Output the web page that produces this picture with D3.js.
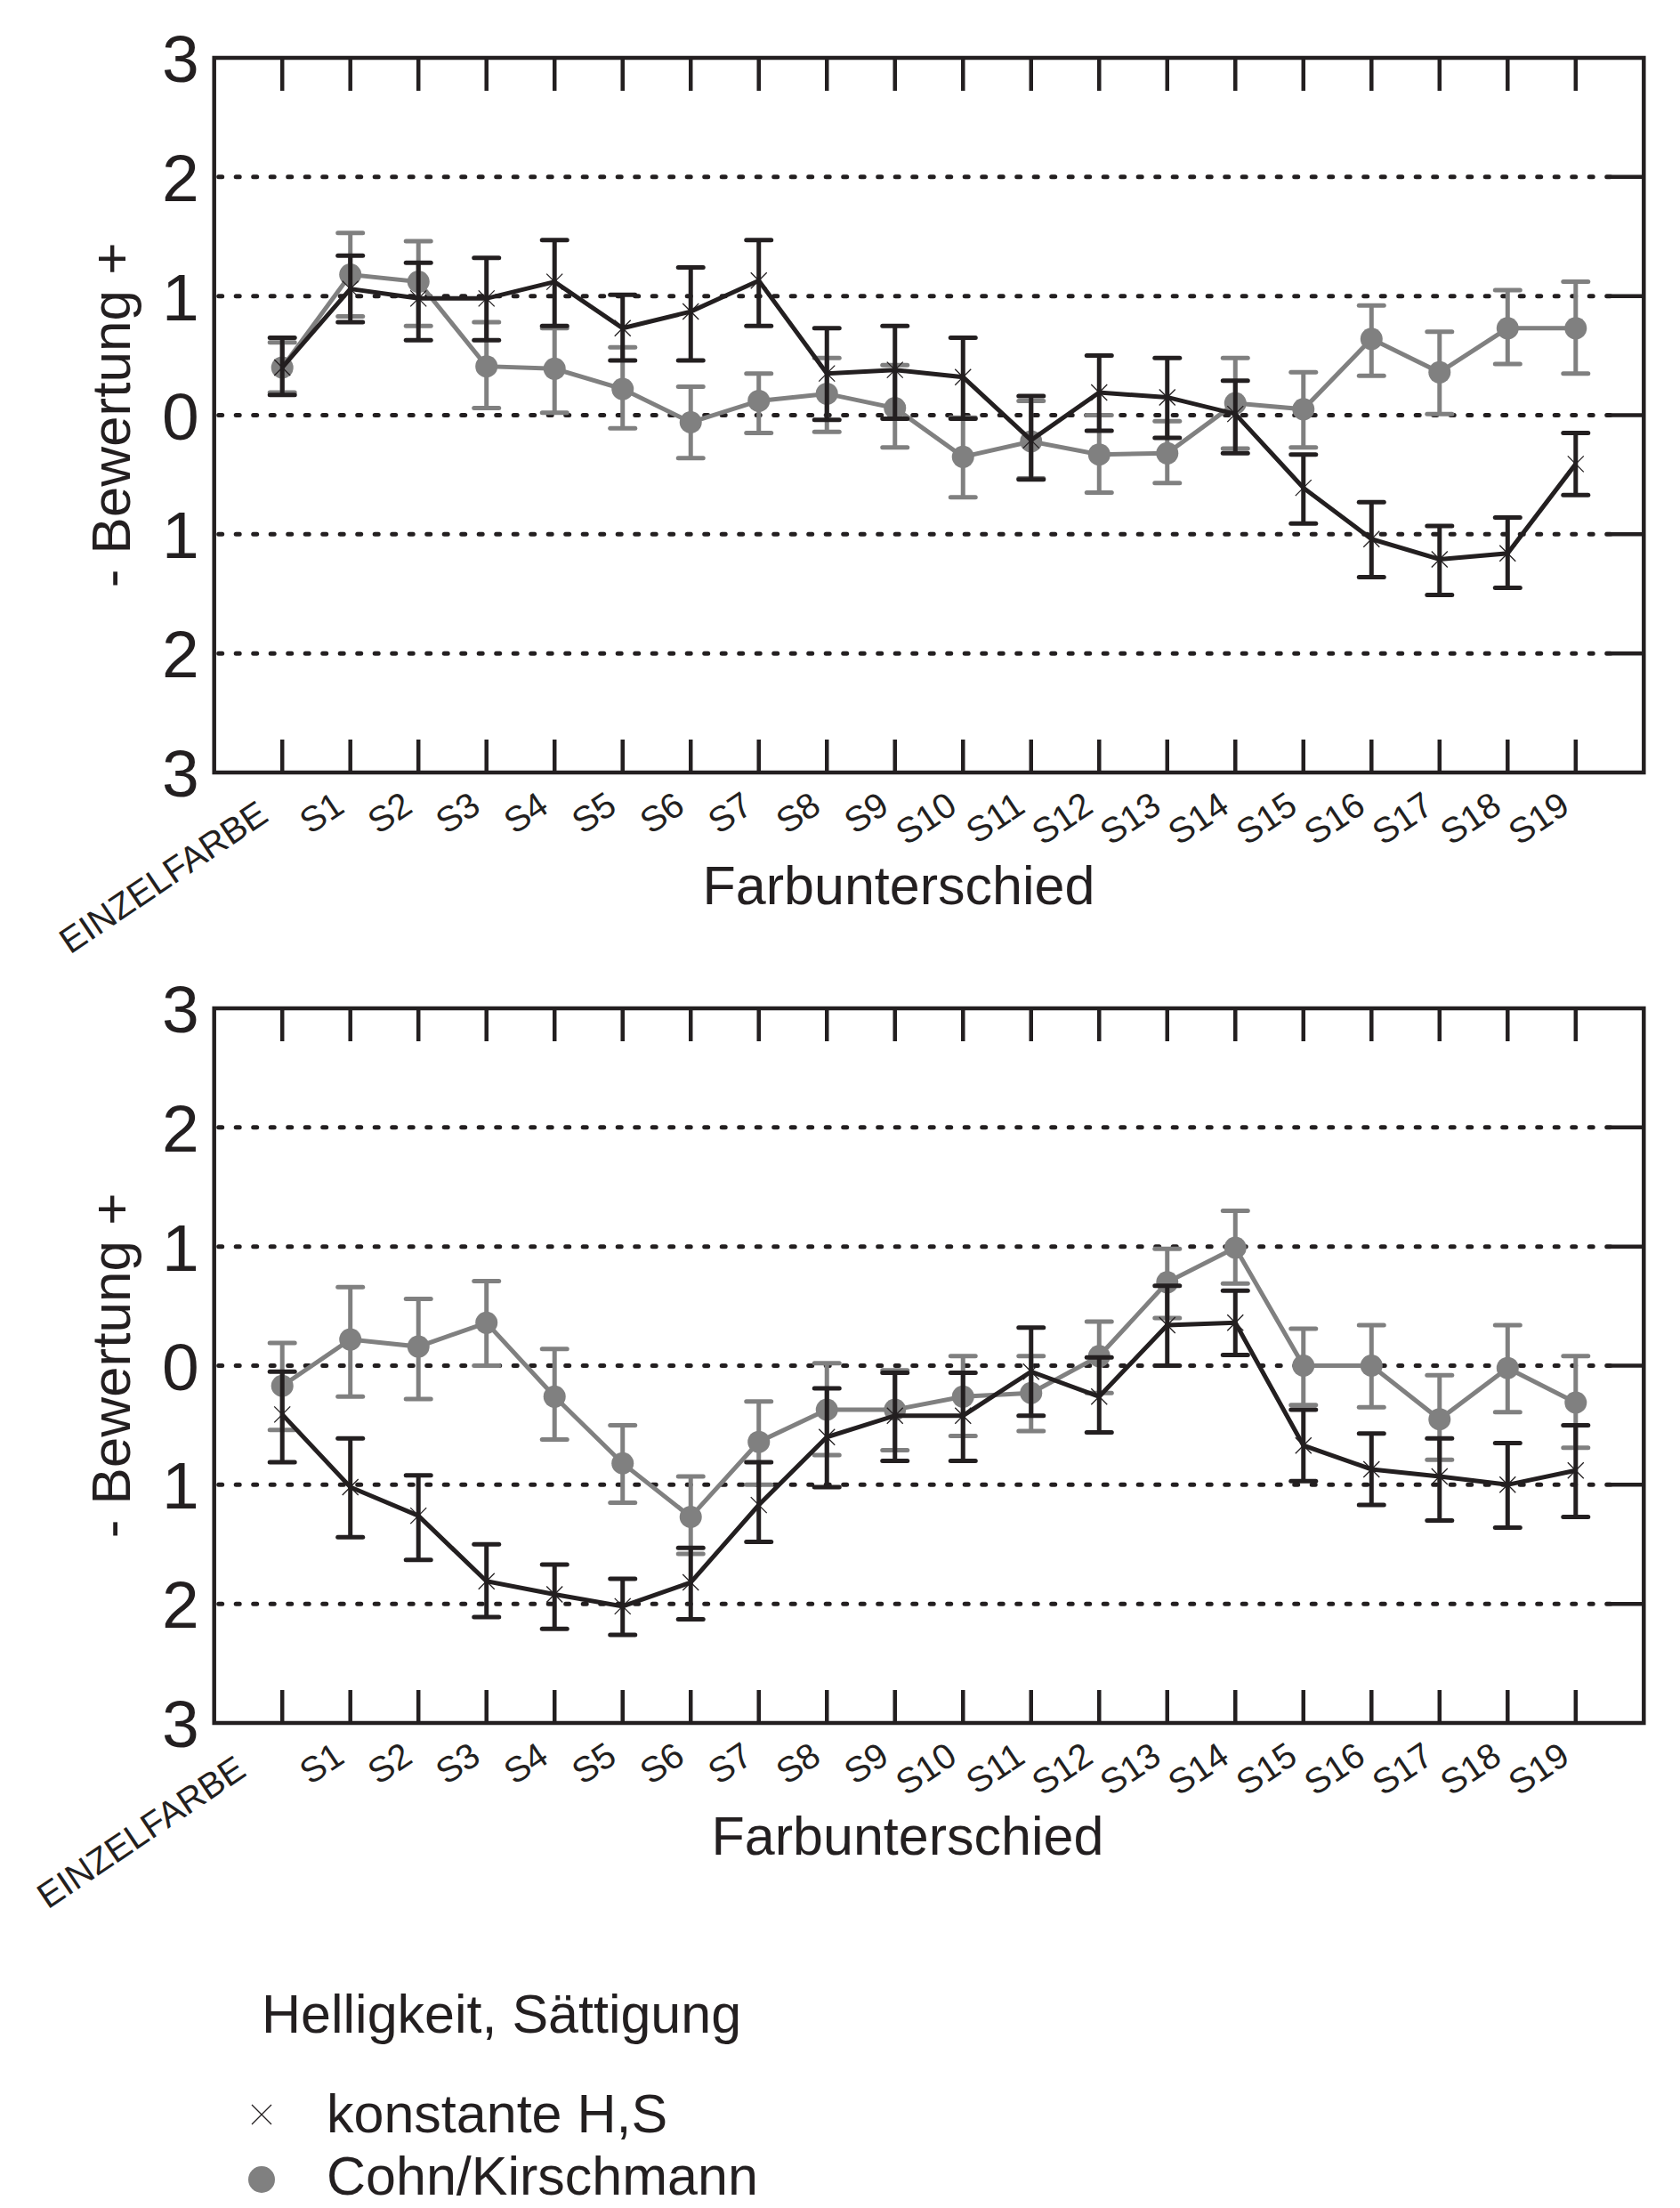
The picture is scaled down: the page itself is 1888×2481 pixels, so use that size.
<!DOCTYPE html>
<html>
<head>
<meta charset="utf-8">
<script src="https://cdn.jsdelivr.net/npm/d3@7"></script>
<style>
  body { margin: 0; background: #fff; }
  svg text { font-family: "Liberation Sans", Arial, sans-serif; fill: #231f20; }
</style>
</head>
<body>
<div id="chart"></div>
<script>
const categories = ['EINZELFARBE', 'S1', 'S2', 'S3', 'S4', 'S5', 'S6', 'S7', 'S8', 'S9',
  'S10', 'S11', 'S12', 'S13', 'S14', 'S15', 'S16', 'S17', 'S18', 'S19'];
const yTicks = [-3, -2, -1, 0, 1, 2, 3];
const gridValues = [-2, -1, 0, 1, 2];

// upper panel
const topKonstante     = [0.40, 1.06, 0.98, 0.98, 1.12, 0.73, 0.87, 1.13, 0.35, 0.38, 0.32, -0.21, 0.19, 0.15, 0.01, -0.61, -1.04, -1.21, -1.16, -0.41];
const topKonstanteLow  = [0.17, 0.78, 0.63, 0.63, 0.75, 0.46, 0.46, 0.75, -0.04, -0.03, -0.03, -0.54, -0.13, -0.19, -0.32, -0.91, -1.36, -1.51, -1.45, -0.67];
const topKonstanteHigh = [0.65, 1.34, 1.28, 1.32, 1.47, 1.01, 1.24, 1.47, 0.73, 0.75, 0.65, 0.16, 0.50, 0.48, 0.29, -0.33, -0.73, -0.93, -0.86, -0.15];
const topCohn          = [0.40, 1.18, 1.12, 0.41, 0.39, 0.22, -0.06, 0.12, 0.18, 0.06, -0.35, -0.22, -0.33, -0.32, 0.10, 0.05, 0.64, 0.36, 0.73, 0.73];
const topCohnLow       = [0.19, 0.83, 0.75, 0.06, 0.02, -0.11, -0.36, -0.15, -0.14, -0.27, -0.69, -0.53, -0.65, -0.57, -0.28, -0.27, 0.33, 0.01, 0.43, 0.35];
const topCohnHigh      = [0.61, 1.53, 1.46, 0.78, 0.73, 0.57, 0.24, 0.35, 0.48, 0.42, -0.02, 0.12, 0.00, -0.05, 0.48, 0.36, 0.92, 0.70, 1.05, 1.12];

// lower panel
const botKonstante     = [-0.41, -1.02, -1.26, -1.81, -1.92, -2.02, -1.82, -1.17, -0.60, -0.42, -0.42, -0.05, -0.26, 0.34, 0.36, -0.67, -0.87, -0.93, -1.00, -0.88];
const botKonstanteLow  = [-0.81, -1.44, -1.63, -2.11, -2.21, -2.26, -2.13, -1.48, -1.02, -0.80, -0.80, -0.42, -0.56, 0.00, 0.09, -0.97, -1.17, -1.30, -1.36, -1.27];
const botKonstanteHigh = [-0.05, -0.61, -0.92, -1.50, -1.67, -1.79, -1.53, -0.81, -0.19, -0.06, -0.06, 0.32, 0.07, 0.67, 0.63, -0.37, -0.57, -0.61, -0.65, -0.50];
const botCohn          = [-0.17, 0.22, 0.16, 0.36, -0.26, -0.82, -1.27, -0.64, -0.37, -0.37, -0.26, -0.23, 0.08, 0.70, 0.99, 0.00, 0.00, -0.45, -0.02, -0.31];
const botCohnLow       = [-0.54, -0.26, -0.28, 0.00, -0.62, -1.15, -1.58, -1.00, -0.75, -0.71, -0.59, -0.55, -0.23, 0.40, 0.69, -0.33, -0.35, -0.79, -0.39, -0.69];
const botCohnHigh      = [0.19, 0.66, 0.56, 0.71, 0.14, -0.50, -0.93, -0.30, 0.02, -0.04, 0.08, 0.08, 0.37, 0.98, 1.30, 0.31, 0.34, -0.08, 0.34, 0.08];

const legendTitle = 'Helligkeit, Sättigung';
const seriesNames = ['konstante H,S', 'Cohn/Kirschmann'];

const BLACK = '#231f20';
const GRAY = '#808080';

const width = 1888, height = 2481;
const left = 240.7, right = 1847.3;
const panelHeight = 803;
const tickLen = 37;

const svg = d3.select('#chart')
  .append('svg')
  .attr('width', width)
  .attr('height', height)
  .attr('viewBox', `0 0 ${width} ${height}`);

const x = d3.scalePoint()
  .domain(categories)
  .range([left, right])
  .padding(1);

const crossPath = s => `M${-s},${-s}L${s},${s}M${-s},${s}L${s},${-s}`;

function drawPanel(top, konstante, cohn, eLabelOffset, titleX) {
  const bottom = top + panelHeight;
  const y = d3.scaleLinear().domain([-3, 3]).range([bottom, top]);
  const g = svg.append('g');

  // dotted grid
  g.selectAll('line.grid')
    .data(gridValues)
    .enter()
    .append('line')
    .attr('class', 'grid')
    .attr('x1', left + 5)
    .attr('x2', right - tickLen)
    .attr('y1', d => y(d))
    .attr('y2', d => y(d))
    .attr('stroke', BLACK)
    .attr('stroke-width', 5)
    .attr('stroke-linecap', 'round')
    .attr('stroke-dasharray', '4 15.5');

  // right side ticks
  g.selectAll('line.rtick')
    .data(gridValues)
    .enter()
    .append('line')
    .attr('x1', right - tickLen)
    .attr('x2', right)
    .attr('y1', d => y(d))
    .attr('y2', d => y(d))
    .attr('stroke', BLACK)
    .attr('stroke-width', 4.5);

  // inner ticks top and bottom
  [[top, top + tickLen], [bottom - tickLen, bottom]].forEach(([y1, y2]) => {
    g.append('g').selectAll('line')
      .data(categories)
      .enter()
      .append('line')
      .attr('x1', d => x(d))
      .attr('x2', d => x(d))
      .attr('y1', y1)
      .attr('y2', y2)
      .attr('stroke', BLACK)
      .attr('stroke-width', 4.5);
  });

  // frame
  g.append('rect')
    .attr('x', left)
    .attr('y', top)
    .attr('width', right - left)
    .attr('height', bottom - top)
    .attr('fill', 'none')
    .attr('stroke', BLACK)
    .attr('stroke-width', 4.5);

  // y axis labels
  const yAxis = g.append('g')
    .attr('transform', `translate(${left},0)`)
    .call(d3.axisLeft(y).tickValues(yTicks).tickFormat(d => Math.abs(d)).tickSize(0).tickPadding(17));
  yAxis.select('.domain').remove();
  yAxis.attr('font-family', null).attr('font-size', null);
  yAxis.selectAll('text')
    .attr('font-size', 75)
    .attr('fill', BLACK)
    .attr('dy', '0.355em');

  // x axis labels
  const xAxis = g.append('g')
    .attr('transform', `translate(0,${bottom})`)
    .call(d3.axisBottom(x).tickSize(0).tickPadding(0));
  xAxis.select('.domain').remove();
  xAxis.attr('font-family', null).attr('font-size', null);
  xAxis.selectAll('text')
    .attr('font-size', 40)
    .attr('fill', BLACK)
    .attr('text-anchor', 'end')
    .attr('y', 0)
    .attr('dy', 0)
    .attr('transform', (d, i) => i === 0
      ? `translate(${eLabelOffset[0]},${eLabelOffset[1]}) rotate(-34)`
      : `translate(-5,43) rotate(-34)`);

  // axis titles
  g.append('text')
    .attr('transform', `translate(146,${(top + bottom) / 2}) rotate(-90)`)
    .attr('text-anchor', 'middle')
    .attr('font-size', 62)
    .text('- Bewertung +');

  g.append('text')
    .attr('x', titleX)
    .attr('y', bottom + 148)
    .attr('text-anchor', 'middle')
    .attr('font-size', 61)
    .text('Farbunterschied');

  const line = d3.line()
    .x((d, i) => x(categories[i]))
    .y(d => y(d));

  function errorBars(vals, lo, hi, color) {
    const eb = g.append('g')
      .attr('stroke', color)
      .attr('stroke-width', 5)
      .selectAll('g')
      .data(vals.map((v, i) => ({ c: categories[i], lo: lo[i], hi: hi[i] })))
      .enter()
      .append('g');
    eb.append('line')
      .attr('x1', d => x(d.c)).attr('x2', d => x(d.c))
      .attr('y1', d => y(d.lo)).attr('y2', d => y(d.hi));
    eb.append('line')
      .attr('stroke-linecap', 'round')
      .attr('x1', d => x(d.c) - 14).attr('x2', d => x(d.c) + 14)
      .attr('y1', d => y(d.lo)).attr('y2', d => y(d.lo));
    eb.append('line')
      .attr('stroke-linecap', 'round')
      .attr('x1', d => x(d.c) - 14).attr('x2', d => x(d.c) + 14)
      .attr('y1', d => y(d.hi)).attr('y2', d => y(d.hi));
  }

  // Cohn/Kirschmann (gray)
  errorBars(cohn[0], cohn[1], cohn[2], GRAY);
  g.append('path')
    .datum(cohn[0])
    .attr('d', line)
    .attr('fill', 'none')
    .attr('stroke', GRAY)
    .attr('stroke-width', 5);
  g.append('g').selectAll('circle')
    .data(cohn[0])
    .enter()
    .append('circle')
    .attr('cx', (d, i) => x(categories[i]))
    .attr('cy', d => y(d))
    .attr('r', 12.5)
    .attr('fill', GRAY);

  // konstante H,S (black)
  errorBars(konstante[0], konstante[1], konstante[2], BLACK);
  g.append('path')
    .datum(konstante[0])
    .attr('d', line)
    .attr('fill', 'none')
    .attr('stroke', BLACK)
    .attr('stroke-width', 5);
  g.append('g').selectAll('path')
    .data(konstante[0])
    .enter()
    .append('path')
    .attr('transform', (d, i) => `translate(${x(categories[i])},${y(d)})`)
    .attr('d', crossPath(9))
    .attr('fill', 'none')
    .attr('stroke', BLACK)
    .attr('stroke-width', 1.3);
}

drawPanel(65, [topKonstante, topKonstanteLow, topKonstanteHigh],
  [topCohn, topCohnLow, topCohnHigh], [-14, 53], 1010);
drawPanel(1133, [botKonstante, botKonstanteLow, botKonstanteHigh],
  [botCohn, botCohnLow, botCohnHigh], [-39, 58], 1020);

// legend
const legend = svg.append('g');
legend.append('text')
  .attr('x', 294)
  .attr('y', 2284)
  .attr('font-size', 61)
  .text(legendTitle);

legend.append('path')
  .attr('transform', 'translate(294,2376)')
  .attr('d', crossPath(11))
  .attr('fill', 'none')
  .attr('stroke', BLACK)
  .attr('stroke-width', 1.3);
legend.append('circle')
  .attr('cx', 294)
  .attr('cy', 2449)
  .attr('r', 15)
  .attr('fill', GRAY);

legend.selectAll('text.item')
  .data(seriesNames)
  .enter()
  .append('text')
  .attr('class', 'item')
  .attr('x', 367)
  .attr('y', (d, i) => 2396 + i * 70)
  .attr('font-size', 61)
  .text(d => d);
</script>
</body>
</html>
